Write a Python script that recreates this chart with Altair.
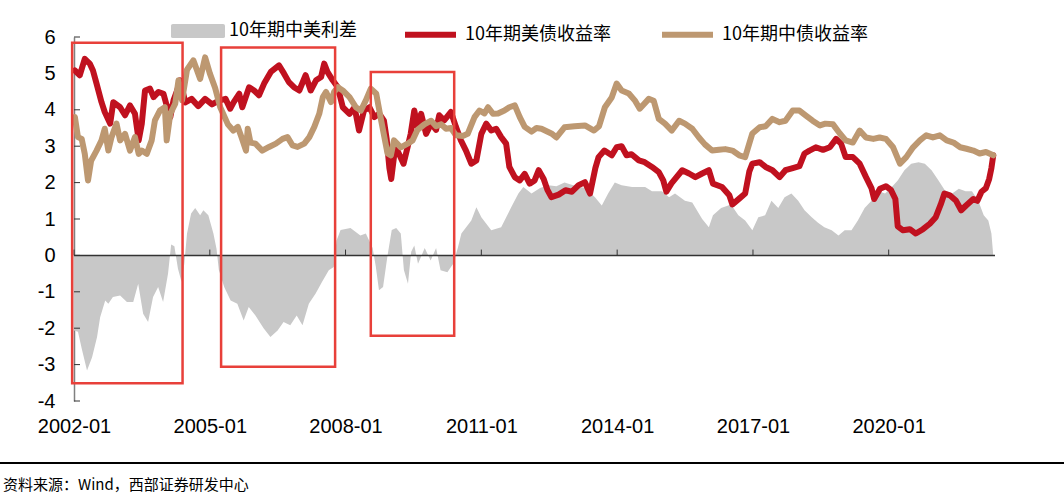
import altair as alt
import pandas as pd

# ---------------- data ----------------
US_T = [2002.02, 2002.13, 2002.24, 2002.35, 2002.42, 2002.50, 2002.61, 2002.68, 2002.80, 2002.87,
        2003.02, 2003.13, 2003.24, 2003.35, 2003.43, 2003.50, 2003.57, 2003.68, 2003.76, 2003.87,
        2003.98, 2004.05, 2004.13, 2004.20, 2004.28, 2004.35, 2004.46, 2004.60, 2004.75, 2004.90,
        2005.05, 2005.20, 2005.35, 2005.45, 2005.53, 2005.65, 2005.72, 2005.87, 2005.98, 2006.09,
        2006.20, 2006.35, 2006.53, 2006.64, 2006.75, 2006.86, 2006.98, 2007.12, 2007.23, 2007.35,
        2007.46, 2007.53, 2007.60, 2007.72, 2007.83, 2007.94, 2008.09, 2008.20, 2008.30, 2008.41,
        2008.53, 2008.64, 2008.75, 2008.85, 2008.91, 2008.97, 2009.01, 2009.10, 2009.18, 2009.28,
        2009.37, 2009.44, 2009.52, 2009.59, 2009.67, 2009.78, 2009.89, 2010.00, 2010.07, 2010.18,
        2010.33, 2010.44, 2010.55, 2010.66, 2010.78, 2010.89, 2011.00, 2011.11, 2011.22, 2011.33,
        2011.44, 2011.55, 2011.62, 2011.74, 2011.85, 2011.96, 2012.07, 2012.18, 2012.27, 2012.38,
        2012.46, 2012.55, 2012.71, 2012.86, 2013.00, 2013.15, 2013.29, 2013.40, 2013.52, 2013.59,
        2013.72, 2013.88, 2013.99, 2014.10, 2014.21, 2014.32, 2014.48, 2014.61, 2014.77, 2014.92,
        2015.02, 2015.09, 2015.20, 2015.44, 2015.59, 2015.73, 2015.88, 2016.03, 2016.12, 2016.32,
        2016.48, 2016.55, 2016.70, 2016.83, 2016.92, 2016.99, 2017.15, 2017.28, 2017.43, 2017.59,
        2017.72, 2017.88, 2018.03, 2018.14, 2018.25, 2018.39, 2018.55, 2018.70, 2018.84, 2018.95,
        2019.05, 2019.21, 2019.36, 2019.50, 2019.62, 2019.68, 2019.81, 2019.94, 2020.05, 2020.15,
        2020.20, 2020.32, 2020.47, 2020.60, 2020.76, 2020.91, 2021.04, 2021.15, 2021.23, 2021.35,
        2021.49, 2021.60, 2021.71, 2021.87, 2021.96, 2022.05, 2022.15, 2022.22, 2022.27, 2022.31]
US_V = [5.08, 4.95, 5.40, 5.27, 5.08, 4.72, 4.21, 3.94, 3.62, 4.21,
        4.07, 3.85, 4.12, 3.89, 3.16, 3.62, 4.53, 4.58, 4.35, 4.49,
        4.44, 4.12, 3.80, 4.26, 4.53, 4.81, 4.20, 4.30, 4.10, 4.30,
        4.15, 4.25, 4.30, 4.03, 4.21, 4.44, 4.07, 4.62, 4.53, 4.40,
        4.72, 5.04, 5.22, 5.00, 4.76, 4.62, 4.53, 4.95, 4.53, 4.81,
        4.90, 5.27, 5.04, 4.81, 4.62, 4.07, 3.89, 4.07, 3.43, 3.98,
        4.07, 3.80, 3.89, 3.70, 3.20, 2.40, 2.10, 3.00, 2.79, 2.52,
        2.98, 3.34, 3.98, 3.53, 3.89, 3.34, 3.62, 3.45, 3.85, 3.71,
        3.94, 3.53, 3.16, 2.88, 2.52, 2.61, 3.34, 3.62, 3.43, 3.48,
        3.25, 3.07, 2.43, 2.15, 2.06, 2.24, 1.97, 2.06, 2.34, 2.10,
        1.80, 1.60, 1.67, 1.79, 1.75, 1.93, 2.01, 1.70, 2.40, 2.70,
        2.88, 2.75, 2.97, 3.00, 2.75, 2.78, 2.61, 2.56, 2.43, 2.29,
        2.06, 1.75, 1.98, 2.34, 2.25, 2.15, 2.25, 2.34, 1.97, 1.88,
        1.65, 1.40, 1.56, 1.70, 2.30, 2.52, 2.56, 2.43, 2.34, 2.15,
        2.34, 2.40, 2.45, 2.80, 2.88, 2.97, 2.90, 2.97, 3.20, 3.07,
        2.70, 2.70, 2.52, 2.15, 1.85, 1.55, 1.83, 1.90, 1.80, 1.55,
        0.80, 0.69, 0.72, 0.60, 0.72, 0.87, 1.05, 1.40, 1.70, 1.65,
        1.50, 1.24, 1.37, 1.55, 1.50, 1.75, 1.85, 2.10, 2.40, 2.75]

CN_T = [2002.02, 2002.09, 2002.17, 2002.24, 2002.31, 2002.38, 2002.50, 2002.61, 2002.68, 2002.76,
        2002.83, 2002.94, 2003.02, 2003.13, 2003.24, 2003.35, 2003.43, 2003.50, 2003.61, 2003.72,
        2003.79, 2003.90, 2004.01, 2004.05, 2004.13, 2004.24, 2004.31, 2004.39, 2004.50, 2004.64,
        2004.79, 2004.90, 2005.00, 2005.12, 2005.23, 2005.40, 2005.52, 2005.62, 2005.70, 2005.80,
        2005.84, 2005.90, 2006.01, 2006.16, 2006.31, 2006.46, 2006.61, 2006.72, 2006.83, 2006.94,
        2007.09, 2007.20, 2007.31, 2007.42, 2007.50, 2007.57, 2007.68, 2007.75, 2007.83, 2007.94,
        2008.09, 2008.23, 2008.34, 2008.45, 2008.56, 2008.68, 2008.79, 2008.93, 2009.00, 2009.07,
        2009.22, 2009.37, 2009.48, 2009.59, 2009.74, 2009.89, 2010.00, 2010.11, 2010.22, 2010.33,
        2010.44, 2010.59, 2010.70, 2010.85, 2010.96, 2011.07, 2011.15, 2011.26, 2011.37, 2011.51,
        2011.62, 2011.74, 2011.85, 2011.96, 2012.11, 2012.22, 2012.33, 2012.55, 2012.66, 2012.84,
        2013.06, 2013.29, 2013.49, 2013.60, 2013.73, 2013.88, 2013.99, 2014.10, 2014.26, 2014.39,
        2014.50, 2014.70, 2014.81, 2014.92, 2015.06, 2015.21, 2015.37, 2015.50, 2015.66, 2015.81,
        2015.94, 2016.10, 2016.25, 2016.39, 2016.55, 2016.70, 2016.83, 2016.99, 2017.15, 2017.28,
        2017.43, 2017.59, 2017.72, 2017.88, 2018.03, 2018.17, 2018.32, 2018.48, 2018.60, 2018.77,
        2018.92, 2019.05, 2019.21, 2019.36, 2019.50, 2019.66, 2019.80, 2019.94, 2020.10, 2020.25,
        2020.39, 2020.54, 2020.69, 2020.83, 2020.98, 2021.13, 2021.28, 2021.43, 2021.58, 2021.72,
        2021.87, 2022.01, 2022.15, 2022.31]
CN_V = [3.80, 3.25, 3.20, 2.79, 2.06, 2.60, 2.88, 3.16, 3.48, 2.88,
        3.25, 3.62, 3.16, 3.34, 2.88, 3.25, 2.79, 2.88, 2.79, 3.16,
        3.71, 3.98, 4.07, 3.16, 3.89, 4.17, 4.81, 4.26, 5.10, 5.36,
        4.85, 5.44, 5.00, 4.60, 4.07, 3.60, 3.43, 3.53, 3.25, 2.88,
        3.48, 3.10, 3.07, 2.88, 2.98, 3.07, 3.20, 3.25, 3.02, 2.98,
        3.07, 3.25, 3.53, 3.89, 4.35, 4.49, 4.21, 4.49, 4.62, 4.53,
        4.35, 4.07, 3.98, 4.26, 4.58, 4.44, 3.70, 2.80, 2.75, 3.16,
        2.97, 3.07, 3.16, 3.45, 3.60, 3.70, 3.55, 3.60, 3.48, 3.50,
        3.30, 3.28, 3.34, 3.80, 3.98, 3.90, 4.07, 3.89, 3.90, 3.98,
        4.07, 4.12, 3.80, 3.53, 3.40, 3.50, 3.48, 3.35, 3.24, 3.52,
        3.55, 3.57, 3.43, 3.55, 4.07, 4.34, 4.72, 4.53, 4.45, 4.26,
        4.03, 4.30, 4.25, 3.75, 3.62, 3.43, 3.70, 3.62, 3.48, 3.24,
        3.05, 2.88, 2.90, 2.92, 2.88, 2.75, 2.70, 3.35, 3.52, 3.55,
        3.75, 3.66, 3.70, 3.98, 3.98, 3.84, 3.70, 3.57, 3.62, 3.60,
        3.35, 3.16, 3.10, 3.43, 3.24, 3.20, 3.24, 3.20, 2.97, 2.52,
        2.70, 2.97, 3.16, 3.30, 3.24, 3.30, 3.16, 3.10, 2.97, 2.93,
        2.88, 2.80, 2.84, 2.75]

SP_T = [2002.00, 2002.09, 2002.18, 2002.29, 2002.40, 2002.51, 2002.58, 2002.69, 2002.76, 2002.86,
        2003.02, 2003.17, 2003.31, 2003.42, 2003.53, 2003.64, 2003.75, 2003.86, 2003.97, 2004.08,
        2004.15, 2004.22, 2004.30, 2004.38, 2004.44, 2004.50, 2004.59, 2004.68, 2004.79, 2004.86,
        2004.97, 2005.08, 2005.15, 2005.20, 2005.32, 2005.46, 2005.61, 2005.75, 2005.86, 2006.01,
        2006.19, 2006.34, 2006.50, 2006.63, 2006.78, 2006.92, 2007.05, 2007.19, 2007.34, 2007.48,
        2007.63, 2007.74, 2007.80, 2007.89, 2008.11, 2008.33, 2008.45, 2008.60, 2008.67, 2008.74,
        2008.83, 2008.93, 2009.02, 2009.12, 2009.22, 2009.29, 2009.38, 2009.45, 2009.52, 2009.60,
        2009.75, 2009.88, 2010.00, 2010.10, 2010.25, 2010.38, 2010.48, 2010.56, 2010.78, 2010.89,
        2011.00, 2011.22, 2011.44, 2011.66, 2011.82, 2011.93, 2012.11, 2012.30, 2012.48, 2012.66,
        2012.84, 2013.10, 2013.30, 2013.51, 2013.66, 2013.80, 2013.95, 2014.10, 2014.33, 2014.62,
        2014.77, 2014.99, 2015.15, 2015.28, 2015.50, 2015.66, 2015.88, 2016.03, 2016.12, 2016.30,
        2016.52, 2016.68, 2016.83, 2016.99, 2017.12, 2017.27, 2017.41, 2017.56, 2017.70, 2017.85,
        2018.00, 2018.14, 2018.30, 2018.44, 2018.58, 2018.74, 2018.89, 2019.03, 2019.18, 2019.32,
        2019.47, 2019.62, 2019.78, 2019.92, 2020.07, 2020.20, 2020.35, 2020.50, 2020.66, 2020.80,
        2020.95, 2021.10, 2021.24, 2021.40, 2021.55, 2021.70, 2021.84, 2021.98, 2022.10, 2022.20,
        2022.27, 2022.31]
SP_V = [-2.06, -2.10, -2.60, -3.16, -2.80, -2.24, -1.70, -1.24, -1.33, -1.14,
        -1.10, -1.28, -1.28, -0.78, -1.60, -1.83, -1.14, -0.87, -1.28, -0.50,
        0.30, 0.25, -0.37, -0.73, -0.23, 0.60, 1.15, 1.30, 1.10, 1.24,
        1.10, 0.60, 0.18, -0.40, -0.87, -1.24, -1.33, -1.79, -1.42, -1.65,
        -2.00, -2.24, -2.06, -1.83, -1.92, -1.65, -1.92, -1.33, -1.05, -0.73,
        -0.41, -0.32, 0.40, 0.70, 0.75, 0.55, 0.60, 0.20, -0.30, -0.96,
        -0.87, 0.00, 0.70, 0.75, 0.60, -0.40, -0.78, 0.10, 0.27, -0.23,
        0.20, -0.14, 0.20, -0.41, -0.46, -0.23, 0.20, 0.60, 0.96, 1.32,
        1.05, 0.69, 0.77, 1.32, 1.70, 1.88, 1.70, 1.85, 1.93, 1.90,
        2.00, 1.90, 1.85, 1.60, 1.37, 1.70, 2.00, 1.93, 1.88, 1.88,
        1.76, 1.76, 1.60, 1.70, 1.50, 1.45, 1.00, 0.77, 1.10, 1.30,
        1.40, 1.10, 0.96, 0.69, 1.05, 1.10, 1.50, 1.30, 1.60, 1.70,
        1.50, 1.24, 1.05, 0.90, 0.77, 0.69, 0.55, 0.69, 0.69, 0.96,
        1.30, 1.50, 1.76, 1.70, 1.88, 2.06, 2.34, 2.52, 2.56, 2.52,
        2.34, 2.06, 1.79, 1.70, 1.83, 1.76, 1.76, 1.50, 1.10, 0.96,
        0.60, 0.00]

# highlighted periods (red boxes): start, end, top, bottom
BOX_START = [2001.96, 2005.25, 2008.56]
BOX_END = [2004.40, 2007.77, 2010.40]
BOX_TOP = [5.84, 5.71, 5.04]
BOX_BOTTOM = [-3.51, -3.06, -2.21]

TICK_YEARS = [2002, 2005, 2008, 2011, 2014, 2017, 2020]
Y_TICKS = [-4, -3, -2, -1, 0, 1, 2, 3, 4, 5, 6]

NAME_SPREAD = "10年期中美利差"
NAME_US = "10年期美债收益率"
NAME_CN = "10年期中债收益率"
SOURCE = "资料来源：Wind，西部证券研发中心"

GREY = "#C8C8C8"
RED = "#C0111F"
TAN = "#BD9871"
BOX_RED = "#E8403A"

W, H = 921, 364
CJK = "Noto Sans CJK SC"
LATIN = "Liberation Sans"


def to_date(t):
    y = int(t)
    d = pd.Timestamp(year=y, month=1, day=1) + pd.Timedelta(days=(t - y) * 365.25)
    return d.strftime("%Y-%m-%d")


us_df = pd.DataFrame({"date": [to_date(t) for t in US_T], "value": US_V, "series": NAME_US})
cn_df = pd.DataFrame({"date": [to_date(t) for t in CN_T], "value": CN_V, "series": NAME_CN})
sp_df = pd.DataFrame({"date": [to_date(t) for t in SP_T], "value": SP_V, "series": NAME_SPREAD})
box_df = pd.DataFrame({"date": [to_date(t) for t in BOX_START], "x2": [to_date(t) for t in BOX_END],
                       "value": BOX_TOP, "y2": BOX_BOTTOM})
xtick_df = pd.DataFrame({"date": [f"{y}-01-01" for y in TICK_YEARS], "value": [0.0] * len(TICK_YEARS)})
ytick_df = pd.DataFrame({"value": Y_TICKS})
zero_df = pd.DataFrame({"value": [0.0]})

x_scale = alt.Scale(domain=[alt.DateTime(year=2002, month=1, date=1),
                            alt.DateTime(year=2022, month=5, date=8)])
y_scale = alt.Scale(domain=[-4, 6], nice=False, zero=False)

x_axis = alt.Axis(values=[alt.DateTime(year=y, month=1, date=1) for y in TICK_YEARS],
                  format="%Y-%m", domain=False, ticks=False, grid=False,
                  labelFont=LATIN, labelFontSize=20, labelColor="black",
                  labelPadding=15, labelFlush=False, labelOverlap=False, title=None)
y_axis = alt.Axis(values=Y_TICKS, tickCount=11, domain=True, domainColor="#808080",
                  domainWidth=1.5, ticks=False, grid=False, labelFont=LATIN, labelFontSize=20,
                  labelColor="black", labelPadding=19, labelOverlap=False,
                  labelFlush=False, labelExpr="'' + datum.value", title=None)

XE = alt.X("date:T", scale=x_scale, axis=x_axis)
YE = alt.Y("value:Q", scale=y_scale, axis=y_axis, stack=None)

ROUND_BAR = ("M-0.93,-0.26 L0.93,-0.26 Q1,-0.26 1,-0.19 L1,0.19 Q1,0.26 0.93,0.26 "
             "L-0.93,0.26 Q-1,0.26 -1,0.19 L-1,-0.19 Q-1,-0.26 -0.93,-0.26 Z")

area = alt.Chart(sp_df).mark_area(interpolate="linear").encode(
    x=XE, y=YE,
    fill=alt.Fill("series:N", scale=alt.Scale(domain=[NAME_SPREAD], range=[GREY]),
                  legend=alt.Legend(orient="none", legendX=97, legendY=-33,
                                    direction="horizontal", title=None,
                                    symbolType=ROUND_BAR, symbolSize=2916,
                                    symbolStrokeWidth=0, symbolOpacity=1,
                                    labelFont=CJK, labelFontSize=18, labelColor="black",
                                    labelOffset=4, padding=0)),
)

zero_line = alt.Chart(zero_df).mark_rule(color="#333333", strokeWidth=1.5).encode(
    x=alt.value(0), x2=alt.value(W), y=YE
)

x_ticks = alt.Chart(xtick_df).mark_rule(color="#333333", strokeWidth=1).encode(
    x=XE, y=YE, y2=alt.datum(0.16)
)

y_ticks = alt.Chart(ytick_df).mark_rule(color="#333333", strokeWidth=1).encode(
    x=alt.value(0), x2=alt.value(6), y=YE
)

line_scale = alt.Scale(domain=[NAME_US, NAME_CN], range=[RED, TAN])
us_line = alt.Chart(us_df).mark_line(strokeWidth=6, strokeJoin="round", strokeCap="round").encode(
    x=XE, y=YE,
    stroke=alt.Stroke("series:N", scale=line_scale,
                      legend=alt.Legend(orient="none", legendX=328, legendY=-31,
                                        direction="horizontal", title=None,
                                        symbolType="stroke", symbolSize=2601,
                                        symbolStrokeWidth=6,
                                        labelFont=CJK, labelFontSize=18, labelColor="black",
                                        labelOffset=6, columnPadding=39, padding=0)),
)
cn_line = alt.Chart(cn_df).mark_line(strokeWidth=6, strokeJoin="round", strokeCap="round").encode(
    x=XE, y=YE,
    stroke=alt.Stroke("series:N", scale=line_scale),
)

boxes = alt.Chart(box_df).mark_rect(filled=False, color=BOX_RED, strokeWidth=2.5).encode(
    x=XE, x2="x2:T", y=YE, y2="y2:Q",
)

sep = alt.Chart(zero_df).mark_rule(color="black", strokeWidth=2).encode(
    x=alt.value(-74), x2=alt.value(990), y=alt.value(426)
)

source = alt.Chart(pd.DataFrame({"t": [SOURCE]})).mark_text(
    align="left", baseline="middle", font=CJK, fontSize=15, color="black"
).encode(x=alt.value(-71), y=alt.value(448), text="t:N")

chart = alt.layer(area, zero_line, x_ticks, y_ticks, us_line, cn_line, boxes, sep, source).properties(
    width=W, height=H,
    autosize=alt.AutoSizeParams(type="none"),
    padding={"left": 74, "top": 37, "right": 69, "bottom": 101},
    background="white",
).configure_view(strokeWidth=0)

chart.save("out.html", embed_options={"renderer": "svg", "actions": False})
